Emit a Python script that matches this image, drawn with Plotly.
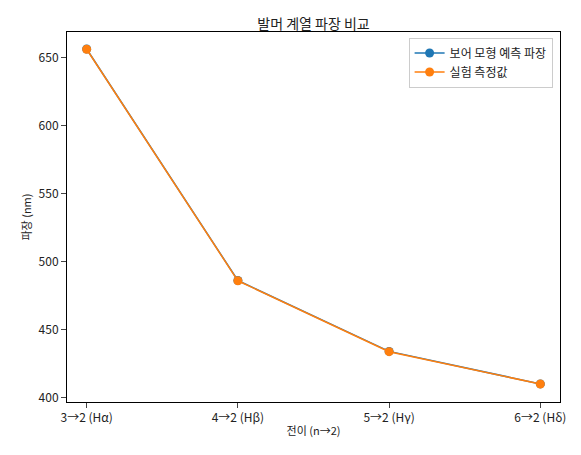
import plotly.graph_objects as go

transitions = ["3→2 (Hα)", "4→2 (Hβ)", "5→2 (Hγ)", "6→2 (Hδ)"]
bohr_nm = [656.5, 486.3, 434.2, 410.3]
measured_nm = [656.3, 486.1, 434.0, 410.2]

font = "Noto Sans CJK KR"
fig = go.Figure()
fig.add_trace(go.Scatter(x=list(range(4)), y=bohr_nm, mode="lines+markers", name="보어 모형 예측 파장",
                         line=dict(color="#1f77b4", width=1.5), marker=dict(size=9)))
fig.add_trace(go.Scatter(x=list(range(4)), y=measured_nm, mode="lines+markers", name="실험 측정값",
                         line=dict(color="#ff7f0e", width=1.5), marker=dict(size=9)))
fig.update_layout(
    width=581, height=455, plot_bgcolor="white", paper_bgcolor="white",
    font=dict(family=font, size=12, color="#222"),
    title=dict(text="발머 계열 파장 비교", x=0.5, xref="paper", y=0.975, xanchor="center", font=dict(size=14)),
    margin=dict(l=59, r=29, t=24, b=61, autoexpand=False),
    legend=dict(x=0.985, y=0.985, xanchor="right", yanchor="top", bordercolor="#ccc", borderwidth=1,
                bgcolor="rgba(255,255,255,0.8)", font=dict(size=12)),
)
fig.update_xaxes(tickvals=list(range(4)), ticktext=transitions, range=[-0.13, 3.13], showgrid=False,
                 showline=True, mirror=True, linecolor="black", ticks="outside", zeroline=False,
                 tickfont=dict(size=12), title=dict(text="전이 (n→2)", standoff=2, font=dict(size=11)))
fig.update_yaxes(range=[397, 669], dtick=50, showgrid=False, showline=True, mirror=True,
                 linecolor="black", ticks="outside", zeroline=False, tickfont=dict(size=12),
                 title=dict(text="파장 (nm)", standoff=4, font=dict(size=11)))
fig.write_html("out.html")
